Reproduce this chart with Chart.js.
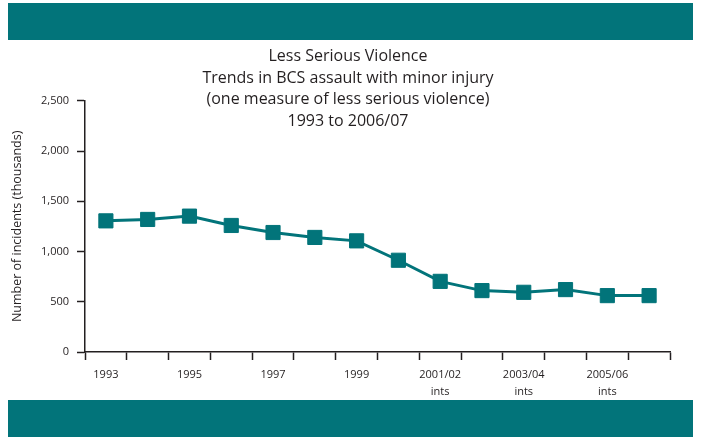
<!DOCTYPE html>
<html>
<head>
<meta charset="utf-8">
<title>Less Serious Violence</title>
<script src="https://cdn.jsdelivr.net/npm/chart.js@4/dist/chart.umd.min.js"></script>
<style>
  html, body { margin: 0; padding: 0; background: #ffffff; }
  canvas { display: block; }
</style>
</head>
<body>
<canvas id="chartViolencia" width="702" height="441"></canvas>
<script>
const years = ['1993', '1994', '1995', '1996', '1997', '1998', '1999', '2000',
               '2001/02', '2002/03', '2003/04', '2004/05', '2005/06', '2006/07']
const tickLabels = ['1993', '', '1995', '', '1997', '', '1999', '',
                    ['2001/02', 'ints'], '', ['2003/04', 'ints'], '', ['2005/06', 'ints'], '']
const incidents = [1305, 1319, 1352, 1259, 1189, 1140, 1106, 913, 703, 611, 594, 621, 561, 561]
const titleLines = ['Less Serious Violence', 'Trends in BCS assault with minor injury',
                    '(one measure of less serious violence)', '1993 to 2006/07']

const teal = '#02747a'
const ink = '#231f20'
const fontFamily = '"Open Sans", "Noto Sans", sans-serif'

// teal header and footer bands
const bandas = {
    id : 'bandas',
    beforeDraw(chart) {
        const ctx = chart.ctx
        ctx.save()
        ctx.fillStyle = teal
        ctx.fillRect(8, 3, 685, 37)
        ctx.fillRect(8, 400, 685, 37)
        ctx.restore()
    }
}

const canvas = document.getElementById('chartViolencia')
const context = canvas.getContext('2d')

const chartViolencia = new Chart(context, {
    type : 'line',
    data : {
        labels : years,
        datasets : [
            {
                label : 'Assault with minor injury',
                data : incidents,
                borderColor : teal,
                borderWidth : 3,
                tension : 0,
                pointStyle : 'rect',
                pointRadius : 10,
                pointBackgroundColor : teal,
                pointBorderColor : teal,
                pointBorderWidth : 1
            }
        ]
    },
    options : {
        responsive : false,
        animation : false,
        layout : {
            padding : { top : 40, right : 6, bottom : 0, left : 0 }
        },
        plugins : {
            legend : { display : false },
            tooltip : { enabled : false },
            title : {
                display : true,
                text : titleLines,
                color : ink,
                font : { family : fontFamily, size : 16, weight : 'normal', lineHeight : 1.34 },
                padding : { top : 6, bottom : -31 }
            }
        },
        scales : {
            x : {
                offset : true,
                grid : {
                    offset : true,
                    drawOnChartArea : false,
                    drawTicks : true,
                    tickLength : 8,
                    tickColor : ink,
                    tickWidth : 1.5
                },
                border : { color : ink, width : 1.5 },
                ticks : {
                    autoSkip : false,
                    maxRotation : 0,
                    padding : 7,
                    color : ink,
                    font : { family : fontFamily, size : 11, lineHeight : 1.5 },
                    callback : (value, index) => tickLabels[index]
                },
                afterFit : scale => { scale.height = 89 }
            },
            y : {
                min : 0,
                max : 2500,
                grid : {
                    drawOnChartArea : false,
                    drawTicks : true,
                    tickLength : 8,
                    tickColor : ink,
                    tickWidth : 1.5
                },
                border : { color : ink, width : 1.5 },
                ticks : {
                    stepSize : 500,
                    padding : 8,
                    color : ink,
                    font : { family : fontFamily, size : 11 },
                    callback : value => value.toLocaleString('en-GB')
                },
                title : {
                    display : true,
                    text : 'Number of incidents (thousands)',
                    color : ink,
                    font : { family : fontFamily, size : 12.5 },
                    padding : { top : 10, bottom : 0 }
                },
                afterFit : scale => { scale.width = 85 }
            },
            // empty right-hand margin so the plot ends short of the bands
            margen : {
                type : 'linear',
                position : 'right',
                grid : { display : false },
                border : { display : false },
                ticks : { display : false },
                afterFit : scale => { scale.width = 26 }
            }
        }
    },
    plugins : [bandas]
})
</script>
</body>
</html>
